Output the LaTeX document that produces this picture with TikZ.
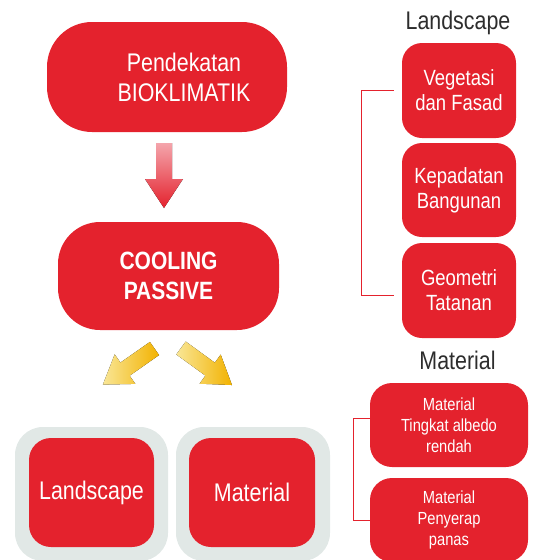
\documentclass[tikz,border=0pt]{standalone}
\usepackage{fontspec}
\setmainfont{Liberation Sans}[FakeStretch=0.84]
\definecolor{boxred}{RGB}{228,34,45}
\definecolor{framegray}{RGB}{225,232,230}
\definecolor{headgray}{RGB}{45,45,45}
\definecolor{arrowpink}{RGB}{244,165,172}
\definecolor{arrowpale}{RGB}{249,230,150}
\definecolor{arrowgold}{RGB}{242,178,0}

\begin{document}
\begin{tikzpicture}[x=1pt,y=-1pt,
    bracket/.style={draw=boxred,line width=0.8pt},
    bigtext/.style={font=\fontsize{25.5}{30}\selectfont},
    boxtext/.style={font=\fontsize{22}{25}\selectfont},
    smalltext/.style={font=\fontsize{17.5}{21}\selectfont}]
    \useasboundingbox (0,0) rectangle (534,560);

    % Frames
    \node[fill=framegray,rounded corners=28pt,minimum width=153pt,minimum height=134pt] (landFrame) at (91.5,494) {};
    \node[fill=framegray,rounded corners=28pt,minimum width=154pt,minimum height=134pt] (matFrame) at (253,494) {};

    \begin{scope}[every node/.style={fill=boxred,text=white,align=center,inner sep=0pt}]
    % Main flow
    \node[rounded corners=45pt,minimum width=240pt,minimum height=110pt] (bio) at (167,77) {};
    \node[fill=none,bigtext] (bioText) at (184,77) {Pendekatan\\BIOKLIMATIK};
    \node[rounded corners=42pt,minimum width=221pt,minimum height=108pt,font=\fontsize{25}{30}\selectfont\bfseries] (cool) at (168.5,276) {COOLING\\PASSIVE};

    % Branches
    \node[rounded corners=22pt,minimum width=125pt,minimum height=109pt,bigtext] (land) at (91.5,492.5) {Landscape};
    \node[rounded corners=22pt,minimum width=126pt,minimum height=109pt,bigtext] (mat) at (252,492.5) {Material};

    % Landscape items
    \node[rounded corners=20pt,minimum width=114pt,minimum height=95pt,boxtext] (veg) at (459,90.5) {Vegetasi\\dan Fasad};
    \node[rounded corners=20pt,minimum width=114pt,minimum height=94pt,boxtext] (kep) at (459,190) {Kepadatan\\Bangunan};
    \node[rounded corners=20pt,minimum width=114pt,minimum height=95pt,boxtext] (geo) at (459,290.5) {Geometri\\Tatanan};

    % Material items
    \node[rounded corners=22pt,minimum width=158pt,minimum height=84pt,smalltext] (albedo) at (449,425) {Material\\Tingkat albedo\\rendah};
    \node[rounded corners=22pt,minimum width=158pt,minimum height=84pt,smalltext] (serap) at (449,520) {Material\\Penyerap\\panas};
    \end{scope}

    % Headings
    \node[anchor=base,text=headgray,bigtext] (landHead) at (458,29.5) {Landscape};
    \node[anchor=base,text=headgray,bigtext] (matHead) at (457.5,369) {Material};

    % Brackets
    \draw[bracket,shorten <=8pt,shorten >=8pt] (veg.west) -- ++(-40,0) |- ([yshift=-4.5pt]geo.west);
    \draw[bracket] ([yshift=7pt]albedo.west) -- ++(-16,0) |- (serap.west);

    % Arrows
    \fill[top color=arrowpink,bottom color=boxred] (156,143) -- (172,143) -- (172,179) -- (183,179)
        -- (164,208) -- (145,179) -- (156,179) -- cycle;
    \begin{scope}[shift={(154.5,348.5)},rotate=215]
        \fill[left color=arrowpale,right color=arrowgold] (0,-8) -- (36,-8) -- (36,-18) -- (63,0)
            -- (36,18) -- (36,8) -- (0,8) -- cycle;
    \end{scope}
    \begin{scope}[shift={(181,348)},rotate=-36]
        \fill[left color=arrowpale,right color=arrowgold] (0,-8) -- (36,-8) -- (36,-18) -- (63,0)
            -- (36,18) -- (36,8) -- (0,8) -- cycle;
    \end{scope}
\end{tikzpicture}
\end{document}
